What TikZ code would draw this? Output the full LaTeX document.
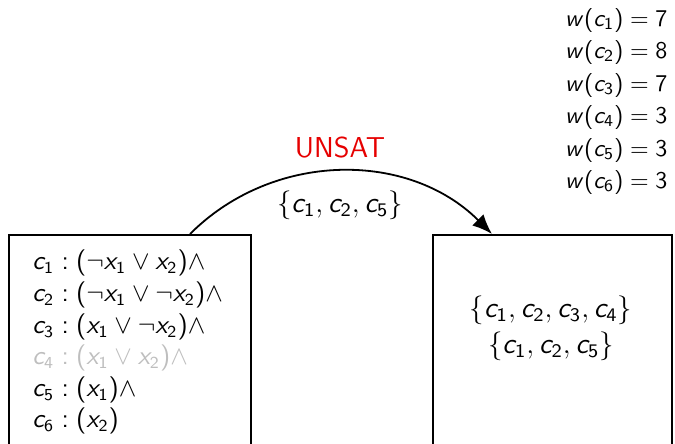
\documentclass[tikz,border=0pt]{standalone}
\usetikzlibrary{arrows.meta}
\DeclareSymbolFont{sfit}{OT1}{cmss}{m}{sl}
\DeclareSymbolFont{sfup}{OT1}{cmss}{m}{n}
\makeatletter
\count@=`a
\loop
  \begingroup\lccode`X=\count@\lowercase{\endgroup\DeclareMathSymbol{X}}{\mathalpha}{sfit}{\count@}%
  \advance\count@ by 1
\ifnum\count@<`z\relax\repeat
\DeclareMathSymbol{z}{\mathalpha}{sfit}{`z}
\count@=`0
\loop
  \begingroup\lccode`X=\count@\lowercase{\endgroup\DeclareMathSymbol{X}}{\mathalpha}{sfup}{\count@}%
  \advance\count@ by 1
\ifnum\count@<`9\relax\repeat
\DeclareMathSymbol{9}{\mathalpha}{sfup}{`9}
\DeclareMathSymbol{(}{\mathopen}{sfup}{`(}
\DeclareMathSymbol{)}{\mathclose}{sfup}{`)}
\DeclareMathSymbol{=}{\mathrel}{sfup}{`=}
\DeclareMathSymbol{:}{\mathrel}{sfup}{`:}
\makeatother
\definecolor{dimgray}{RGB}{190,190,190}
\definecolor{unsatred}{RGB}{230,0,0}
\tikzset{
  txt/.style={inner sep=0pt, font=\fontsize{10.5}{12.6}\selectfont\sffamily},
  wtxt/.style={inner sep=0pt, font=\fontsize{10.3}{12}\selectfont\sffamily},
  settxt/.style={inner sep=0pt, font=\fontsize{11.5}{13.8}\selectfont\sffamily},
  bigtxt/.style={inner sep=0pt, font=\fontsize{12}{14}\selectfont\sffamily},
  box/.style={draw, line width=0.75pt, anchor=north west, inner sep=0pt},
  arc/.style={-{Latex[length=8.3pt,width=6.6pt]}, line width=0.75pt},
}
\begin{document}
\begin{tikzpicture}[x=0.4167pt,y=-0.4167pt]
\clip (0,0) rectangle (675,443);
% boxes
\node[box, minimum width=100.8pt, minimum height=110pt] (L) at (8,234) {};
\node[box, minimum width=99.6pt, minimum height=110pt] (R) at (432,234) {};
% left box text
\node[txt, anchor=west] (l1) at (32,263) {$c_1:(\neg x_1\vee x_2)\wedge$};
\node[txt, anchor=west] (l2) at (32,295) {$c_2:(\neg x_1\vee \neg x_2)\wedge$};
\node[txt, anchor=west] (l3) at (32,327) {$c_3:(x_1\vee \neg x_2)\wedge$};
\node[txt, anchor=west, text=dimgray] (l4) at (32,358) {$c_4:(x_1\vee x_2)\wedge$};
\node[txt, anchor=west] (l5) at (32,390) {$c_5:(x_1)\wedge$};
\node[txt, anchor=west] (l6) at (32,421) {$c_6:(x_2)$};
% right box text
\node[settxt] (r1) at (551,310) {$\{c_1,c_2,c_3,c_4\}$};
\node[settxt] (r2) at (551,346) {$\{c_1,c_2,c_5\}$};
% weights
\node[wtxt, anchor=east] (w1) at (668,20) {$w(c_1)=7$};
\node[wtxt, anchor=east] (w2) at (668,52) {$w(c_2)=8$};
\node[wtxt, anchor=east] (w3) at (668,85) {$w(c_3)=7$};
\node[wtxt, anchor=east] (w4) at (668,117) {$w(c_4)=3$};
\node[wtxt, anchor=east] (w5) at (668,150) {$w(c_5)=3$};
\node[wtxt, anchor=east] (w6) at (668,182) {$w(c_6)=3$};
% arrow
\coordinate (s) at (190,234);
\coordinate (t) at (492,234);
\draw[arc] (s) to[out=45,in=135] (t);
\node[bigtxt, text=unsatred] (u) at (340,148) {UNSAT};
\node[settxt] (lab) at (340,205) {$\{c_1,c_2,c_5\}$};
\end{tikzpicture}
\end{document}
